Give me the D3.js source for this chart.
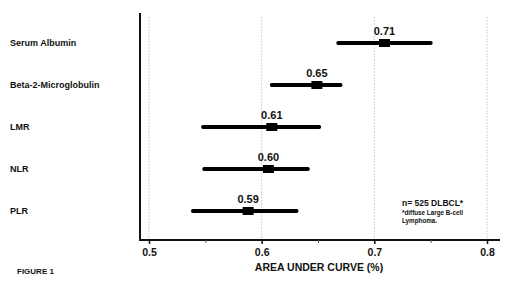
<!DOCTYPE html>
<html><head><meta charset="utf-8">
<script src="https://cdn.jsdelivr.net/npm/d3@7"></script>
<style>body{margin:0;background:#fff}svg{display:block}text{font-family:Arial,"Liberation Sans",sans-serif;font-weight:bold;fill:#111}</style>
</head><body>
<script>
const categories = ["Serum Albumin","Beta-2-Microglobulin","LMR","NLR","PLR"];
const auc = [0.709, 0.649, 0.609, 0.606, 0.588];
const lower = [0.668, 0.609, 0.548, 0.549, 0.539];
const upper = [0.750, 0.670, 0.651, 0.641, 0.631];
const labels = ["0.71","0.65","0.61","0.60","0.59"];
const majorTicks = [0.5,0.6,0.7,0.8];
const minorTicks = [0.55,0.65,0.75];

const W=520,H=291;
const svg=d3.select("body").append("svg").attr("width",W).attr("height",H);
const x=d3.scaleLinear().domain([0.5,0.8]).range([149,487]);
const y=d3.scalePoint().domain(categories).range([43,211]);
const axisY=240, leftX=140, rightX=500;

// gridlines
svg.append("g").selectAll("line").data(majorTicks).join("line")
  .attr("x1",d=>x(d)).attr("x2",d=>x(d)).attr("y1",17).attr("y2",axisY)
  .attr("stroke","#d4d4d4").attr("stroke-width",1).attr("stroke-dasharray","2,1");

// axes lines
svg.append("line").attr("x1",leftX).attr("x2",leftX).attr("y1",13).attr("y2",axisY+1).attr("stroke","#111").attr("stroke-width",2);
svg.append("line").attr("x1",leftX).attr("x2",rightX).attr("y1",axisY).attr("y2",axisY).attr("stroke","#111").attr("stroke-width",2);

// x axis via d3
const ax=d3.axisBottom(x).tickValues(majorTicks).tickSize(4).tickFormat(d3.format(".1f"));
const gA=svg.append("g").attr("transform",`translate(0,${axisY})`).call(ax);
gA.select(".domain").remove();
gA.selectAll(".tick line").attr("stroke","#111").attr("stroke-width",1.5);
gA.selectAll(".tick text").attr("y",9).attr("font-size",10.5).attr("font-family","Arial,'Liberation Sans',sans-serif").attr("font-weight","bold").attr("fill","#111");
const axm=d3.axisBottom(x).tickValues(minorTicks).tickSize(3).tickFormat("");
const gM=svg.append("g").attr("transform",`translate(0,${axisY})`).call(axm);
gM.select(".domain").remove();
gM.selectAll(".tick line").attr("stroke","#555").attr("stroke-width",1);

svg.append("text").attr("x",319).attr("y",271).attr("text-anchor","middle").attr("font-size",10.5).text("AREA UNDER CURVE (%)");

// category labels
svg.append("g").selectAll("text").data(categories).join("text")
  .attr("x",10).attr("y",d=>y(d)+3.2).attr("font-size",9).text(d=>d);

// CI lines
const rows=categories.map((c,i)=>({c,v:auc[i],lo:lower[i],hi:upper[i],lab:labels[i]}));
svg.append("g").selectAll("line").data(rows).join("line")
  .attr("x1",d=>x(d.lo)).attr("x2",d=>x(d.hi)).attr("y1",d=>y(d.c)).attr("y2",d=>y(d.c))
  .attr("stroke","#000").attr("stroke-width",4).attr("stroke-linecap","round");
svg.append("g").selectAll("rect").data(rows).join("rect")
  .attr("x",d=>x(d.v)-5.5).attr("y",d=>y(d.c)-4).attr("width",11).attr("height",8).attr("fill","#000");
svg.append("g").selectAll("text").data(rows).join("text")
  .attr("x",d=>x(d.v)).attr("y",d=>y(d.c)-8).attr("text-anchor","middle").attr("font-size",11).text(d=>d.lab);

// annotation
svg.append("text").attr("x",402).attr("y",206).attr("font-size",8.5).text("n= 525 DLBCL*");
svg.append("text").attr("x",402).attr("y",214.5).attr("font-size",6.3).text("*diffuse Large B-cell");
svg.append("text").attr("x",402).attr("y",223).attr("font-size",6.3).text("Lymphoma.");
svg.append("text").attr("x",17).attr("y",274).attr("font-size",8).text("FIGURE 1");
</script>
</body></html>
